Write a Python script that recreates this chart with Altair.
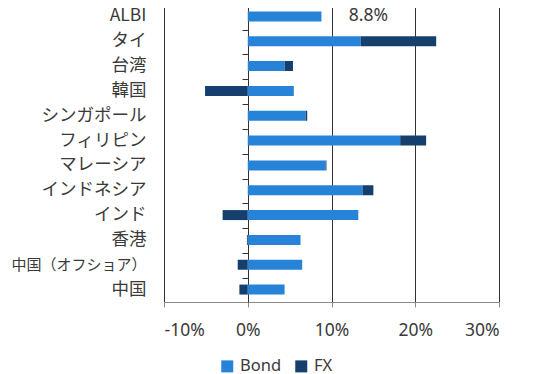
import altair as alt
import pandas as pd

categories = ["ALBI", "タイ", "台湾", "韓国", "シンガポール", "フィリピン", "マレーシア",
              "インドネシア", "インド", "香港", "中国（オフショア）", "中国"]
bond = [8.8, 13.5, 4.4, 5.5, 6.9, 18.2, 9.3, 13.7, 13.2, 6.3, 6.5, 4.4]
fx = [0.0, 9.0, 1.0, -5.1, 0.2, 3.1, 0.1, 1.3, -3.0, -0.1, -1.2, -1.0]
x_ticks = [-10, 0, 10, 20, 30]
note_text = "8.8%"
note_x = 14.4

rows = []
for c, b, f in zip(categories, bond, fx):
    rows.append({"cat": c, "series": "Bond", "start": 0.0, "end": b})
    if f >= 0:
        rows.append({"cat": c, "series": "FX", "start": b, "end": b + f})
    else:
        rows.append({"cat": c, "series": "FX", "start": 0.0, "end": f})
df = pd.DataFrame(rows)

FONT = "Noto Sans CJK JP"
LATIN = "Noto Sans"
TXT = "#3a3a3a"

xscale = alt.Scale(domain=[-10, 30], nice=False)
yenc_sort = categories

bars = alt.Chart(df).mark_bar(size=10).encode(
    y=alt.Y("cat:N", sort=yenc_sort, title=None,
            axis=alt.Axis(domain=False, ticks=False, labelPadding=18,
                          labelFontSize={"condition": {"test": "datum.value == '中国（オフショア）'", "value": 15}, "value": 17.5},
                          labelFont=FONT, labelColor=TXT)),
    x=alt.X("start:Q", scale=xscale, title=None,
            axis=alt.Axis(values=x_ticks, labelExpr="datum.value + '%'", grid=True,
                          gridColor="#333333", gridWidth=1, domainColor="#8a8a8a",
                          tickColor="#8a8a8a", tickSize=5, labelPadding=14,
                          labelFontSize=17.5, labelFont=LATIN, labelColor=TXT)),
    x2="end:Q",
    color=alt.Color("series:N", scale=alt.Scale(domain=["Bond", "FX"], range=["#2683D8", "#15406E"]),
                    legend=alt.Legend(title=None, orient="none", direction="horizontal",
                                      legendX=55, legendY=354, symbolType="square",
                                      symbolSize=144, symbolStrokeWidth=0, labelFontSize=16.5,
                                      labelFont=LATIN, labelColor=TXT, labelOffset=4.5,
                                      columnPadding=11)),
)

zero = alt.Chart(pd.DataFrame({"cat": categories})).mark_tick(opacity=0).encode(
    y=alt.Y("cat:N", sort=yenc_sort, title=None,
            axis=alt.Axis(orient="left", offset=-84, labels=False, domain=True,
                          domainColor="#333333", ticks=True, tickColor="#333333",
                          tickSize=6, bandPosition=0)),
    x=alt.X("z:Q", scale=xscale),
).transform_calculate(z="0")

note = alt.Chart(pd.DataFrame({"cat": [categories[0]], "x": [note_x], "t": [note_text]})).mark_text(
    fontSize=17.5, font=LATIN, color=TXT
).encode(
    y=alt.Y("cat:N", sort=yenc_sort, axis=None),
    x=alt.X("x:Q", scale=xscale),
    text="t:N",
)

chart = alt.layer(bars, zero, note).resolve_axis(y="independent").properties(
    width=335, height=298,
    autosize=alt.AutoSizeParams(type="none"),
    padding={"left": 156, "top": -4, "right": 20, "bottom": 76},
).configure_view(stroke=None)

chart.save("out.html", embed_options={"renderer": "svg", "actions": False})
